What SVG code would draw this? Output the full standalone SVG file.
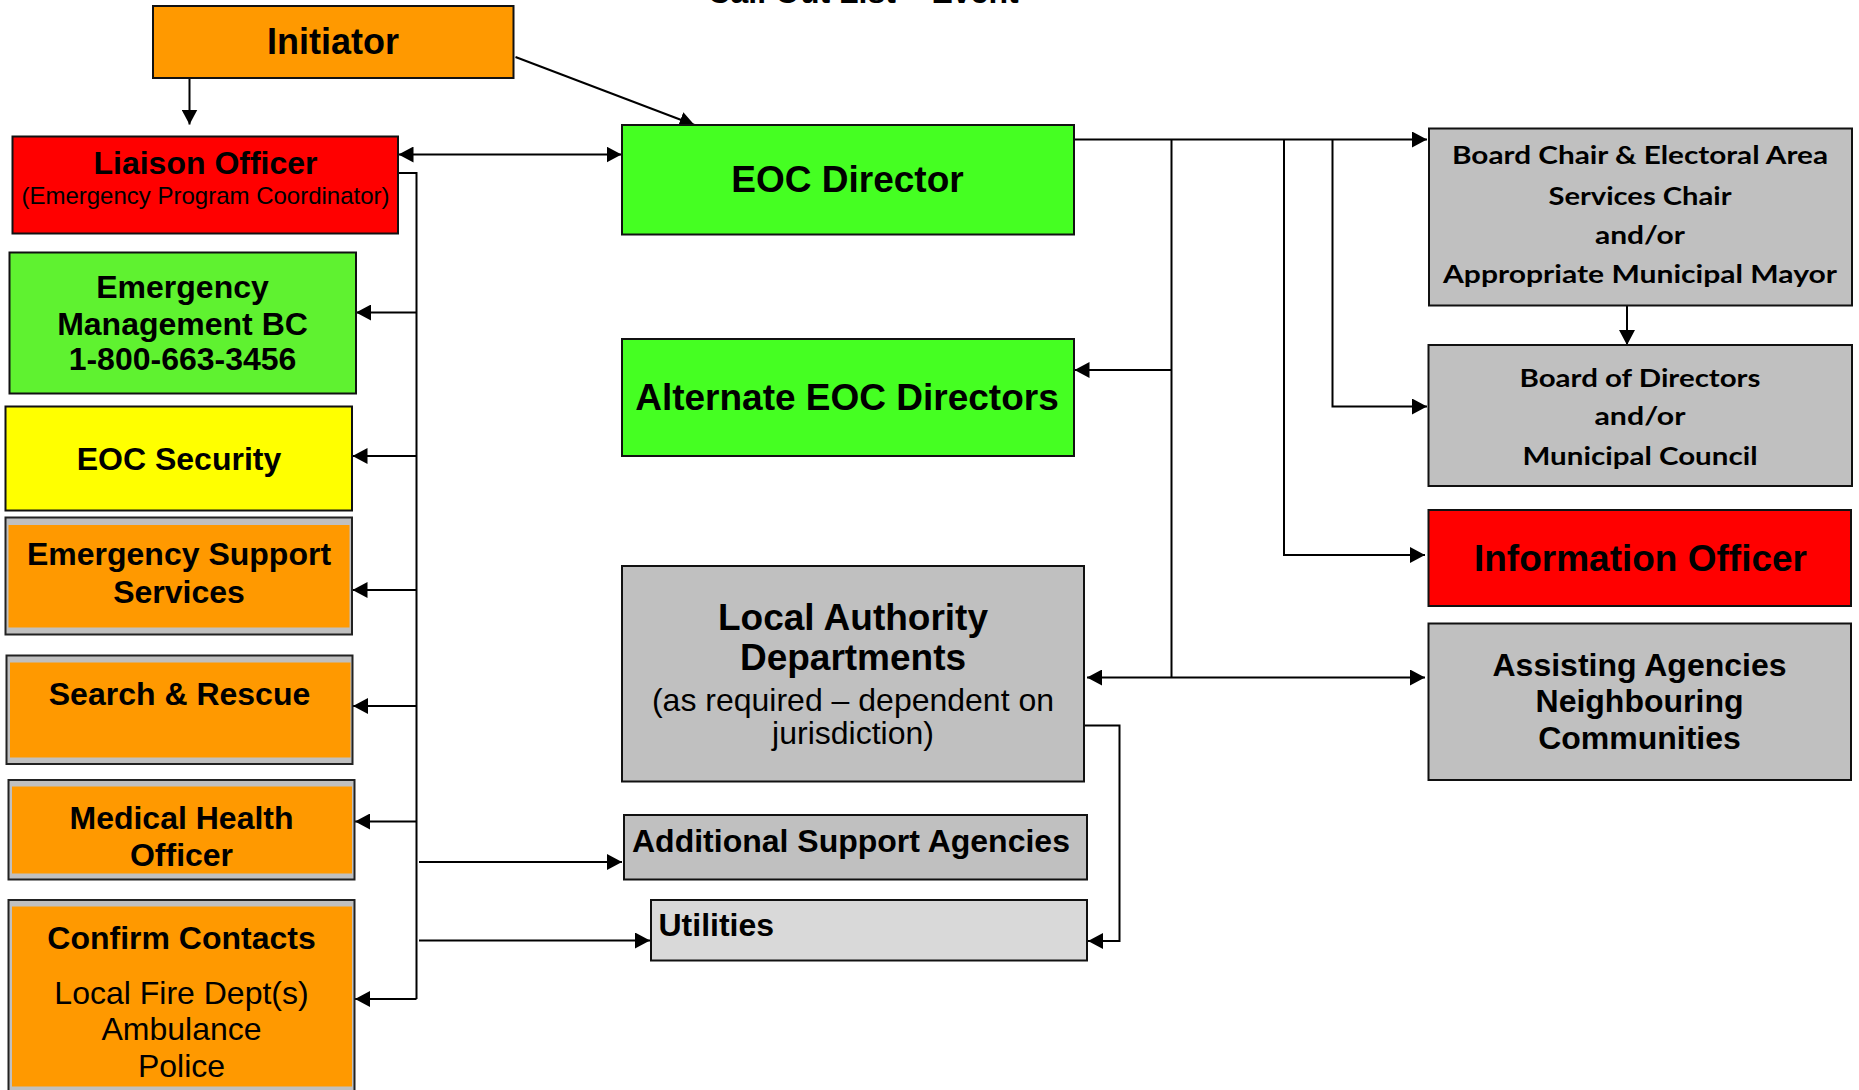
<svg xmlns="http://www.w3.org/2000/svg" width="1859" height="1090" viewBox="0 0 1859 1090">
  <style>
    .box { stroke: #111; stroke-width: 2; }
    .frame { fill: #C0C0C0; stroke: #222; stroke-width: 2; }
    .orange { fill: #FF9900; }
    .red { fill: #FF0000; }
    .green { fill: #45FF22; }
    .lime { fill: #5FF230; }
    .yellow { fill: #FFFF00; }
    .grey { fill: #C0C0C0; }
    .light { fill: #D9D9D9; }
    text { font-family: "Liberation Sans", Arial, sans-serif; fill: #000; }
    .b { font-weight: bold; }
    .c { text-anchor: middle; }
    .s24 { font-size: 24px; }
    .s32 { font-size: 32px; }
    .s36 { font-size: 36px; }
    .s37 { font-size: 37px; }
    .cal { font-family: Lato, "Open Sans", sans-serif; font-weight: bold; font-size: 25px; text-anchor: middle; }
    .wire { fill: none; stroke: #000; stroke-width: 2; }
  </style>
  <defs>
    <marker id="arrow" markerUnits="userSpaceOnUse" markerWidth="15" markerHeight="16" refX="15" refY="8" orient="auto-start-reverse">
      <path d="M0,0 L15,8 L0,16 Z" fill="#000"/>
    </marker>
  </defs>

  <rect width="1859" height="1090" fill="#fff"/>

  <!-- page heading, mostly above the visible area -->
  <text class="b c s32" x="863" y="3">Call Out List – Event</text>

  <!-- connectors -->
  <g id="connectors">
    <line class="wire" x1="189.5" y1="78" x2="189.5" y2="124.5" marker-end="url(#arrow)"/>
    <line class="wire" x1="515.5" y1="57" x2="694.5" y2="125" marker-end="url(#arrow)"/>
    <line class="wire" x1="398.5" y1="154.5" x2="621.5" y2="154.5" marker-start="url(#arrow)" marker-end="url(#arrow)"/>

    <!-- liaison distribution bus -->
    <path class="wire" d="M398,173 H416.5 V999"/>
    <line class="wire" x1="416.5" y1="312.5" x2="356" y2="312.5" marker-end="url(#arrow)"/>
    <line class="wire" x1="416.5" y1="456" x2="352.5" y2="456" marker-end="url(#arrow)"/>
    <line class="wire" x1="416.5" y1="590" x2="352.5" y2="590" marker-end="url(#arrow)"/>
    <line class="wire" x1="416.5" y1="706" x2="353" y2="706" marker-end="url(#arrow)"/>
    <line class="wire" x1="416.5" y1="821.5" x2="355" y2="821.5" marker-end="url(#arrow)"/>
    <line class="wire" x1="416.5" y1="999" x2="355" y2="999" marker-end="url(#arrow)"/>
    <line class="wire" x1="419" y1="862" x2="622" y2="862" marker-end="url(#arrow)"/>
    <line class="wire" x1="419" y1="940.5" x2="650" y2="940.5" marker-end="url(#arrow)"/>

    <!-- EOC director distribution -->
    <line class="wire" x1="1074" y1="139.5" x2="1427" y2="139.5" marker-end="url(#arrow)"/>
    <line class="wire" x1="1171.5" y1="139.5" x2="1171.5" y2="678"/>
    <line class="wire" x1="1171.5" y1="370" x2="1074.5" y2="370" marker-end="url(#arrow)"/>
    <line class="wire" x1="1087" y1="677.5" x2="1425" y2="677.5" marker-start="url(#arrow)" marker-end="url(#arrow)"/>
    <path class="wire" d="M1284,139.5 V555 H1425" marker-end="url(#arrow)"/>
    <path class="wire" d="M1332.5,139.5 V406.5 H1427" marker-end="url(#arrow)"/>
    <line class="wire" x1="1627" y1="306" x2="1627" y2="345" marker-end="url(#arrow)"/>
    <path class="wire" d="M1084,725.5 H1119.5 V941 H1088" marker-end="url(#arrow)"/>
  </g>

  <!-- left column -->
  <g id="initiator">
    <rect class="box orange" x="153" y="6" width="360.5" height="72"/>
    <text class="b c s36" x="333" y="54">Initiator</text>
  </g>
  <g id="liaison-officer">
    <rect class="box red" x="12.5" y="136.5" width="385.5" height="97"/>
    <text class="b c s32" x="205.5" y="173.5">Liaison Officer</text>
    <text class="c s24" x="205.5" y="204">(Emergency Program Coordinator)</text>
  </g>
  <g id="emergency-management-bc">
    <rect class="box lime" x="9.5" y="252.5" width="346.5" height="141"/>
    <text class="b c s32" x="182.5" y="297.5">Emergency</text>
    <text class="b c s32" x="182.5" y="334.5">Management BC</text>
    <text class="b c s32" x="182.5" y="370">1-800-663-3456</text>
  </g>
  <g id="eoc-security">
    <rect class="box yellow" x="5.5" y="406.5" width="346.5" height="104"/>
    <text class="b c s32" x="179" y="470">EOC Security</text>
  </g>
  <g id="emergency-support-services">
    <rect class="frame" x="5.5" y="517.5" width="346.5" height="117"/>
    <rect class="orange" x="8.5" y="525" width="341" height="102.5"/>
    <text class="b c s32" x="179" y="565">Emergency Support</text>
    <text class="b c s32" x="179" y="602.5">Services</text>
  </g>
  <g id="search-rescue">
    <rect class="frame" x="6.5" y="655.5" width="346" height="108.5"/>
    <rect class="orange" x="10" y="662.5" width="340.5" height="95"/>
    <text class="b c s32" x="179.5" y="705">Search &amp; Rescue</text>
  </g>
  <g id="medical-health-officer">
    <rect class="frame" x="8.5" y="780" width="346" height="99.5"/>
    <rect class="orange" x="12" y="786.5" width="340" height="87"/>
    <text class="b c s32" x="181.5" y="828.5">Medical Health</text>
    <text class="b c s32" x="181.5" y="865.5">Officer</text>
  </g>
  <g id="confirm-contacts">
    <rect class="frame" x="8.5" y="900" width="346" height="200"/>
    <rect class="orange" x="12" y="906.5" width="340" height="180"/>
    <text class="b c s32" x="181.5" y="948.5">Confirm Contacts</text>
    <text class="c s32" x="181.5" y="1003.5">Local Fire Dept(s)</text>
    <text class="c s32" x="181.5" y="1040">Ambulance</text>
    <text class="c s32" x="181.5" y="1076.5">Police</text>
  </g>

  <!-- centre column -->
  <g id="eoc-director">
    <rect class="box green" x="622" y="125" width="452" height="109.5"/>
    <text class="b c s37" x="847.5" y="192">EOC Director</text>
  </g>
  <g id="alternate-eoc-directors">
    <rect class="box green" x="622" y="339" width="452" height="117"/>
    <text class="b c s37" x="847" y="410">Alternate EOC Directors</text>
  </g>
  <g id="local-authority-departments">
    <rect class="box grey" x="622" y="566" width="462" height="215.5"/>
    <text class="b c s37" x="853" y="629.5">Local Authority</text>
    <text class="b c s37" x="853" y="670">Departments</text>
    <text class="c s32" x="853" y="710.5">(as required – dependent on</text>
    <text class="c s32" x="853" y="744">jurisdiction)</text>
  </g>
  <g id="additional-support-agencies">
    <rect class="box grey" x="624" y="815" width="463" height="64.5"/>
    <text class="b s32" x="632" y="851.5">Additional Support Agencies</text>
  </g>
  <g id="utilities">
    <rect class="box light" x="651" y="900" width="436" height="60.5"/>
    <text class="b s32" x="658.5" y="936">Utilities</text>
  </g>

  <!-- right column -->
  <g id="board-chair">
    <rect class="box grey" x="1429" y="128.5" width="423" height="177"/>
    <text class="cal" x="1640" y="164" textLength="376" lengthAdjust="spacingAndGlyphs">Board Chair &amp; Electoral Area</text>
    <text class="cal" x="1640" y="205" textLength="183" lengthAdjust="spacingAndGlyphs">Services Chair</text>
    <text class="cal" x="1640" y="243.5" textLength="90" lengthAdjust="spacingAndGlyphs">and/or</text>
    <text class="cal" x="1640" y="282.5" textLength="394" lengthAdjust="spacingAndGlyphs">Appropriate Municipal Mayor</text>
  </g>
  <g id="board-of-directors">
    <rect class="box grey" x="1428.5" y="345" width="423.5" height="141"/>
    <text class="cal" x="1640" y="386.5" textLength="241" lengthAdjust="spacingAndGlyphs">Board of Directors</text>
    <text class="cal" x="1640" y="425" textLength="91" lengthAdjust="spacingAndGlyphs">and/or</text>
    <text class="cal" x="1640" y="464.5" textLength="235" lengthAdjust="spacingAndGlyphs">Municipal Council</text>
  </g>
  <g id="information-officer">
    <rect class="box red" x="1428.5" y="510" width="422.5" height="96"/>
    <text class="b c s37" x="1640.5" y="571">Information Officer</text>
  </g>
  <g id="assisting-agencies">
    <rect class="box grey" x="1428.5" y="623.5" width="422.5" height="156.5"/>
    <text class="b c s32" x="1639.5" y="676">Assisting Agencies</text>
    <text class="b c s32" x="1639.5" y="712">Neighbouring</text>
    <text class="b c s32" x="1639.5" y="748.5">Communities</text>
  </g>
</svg>
